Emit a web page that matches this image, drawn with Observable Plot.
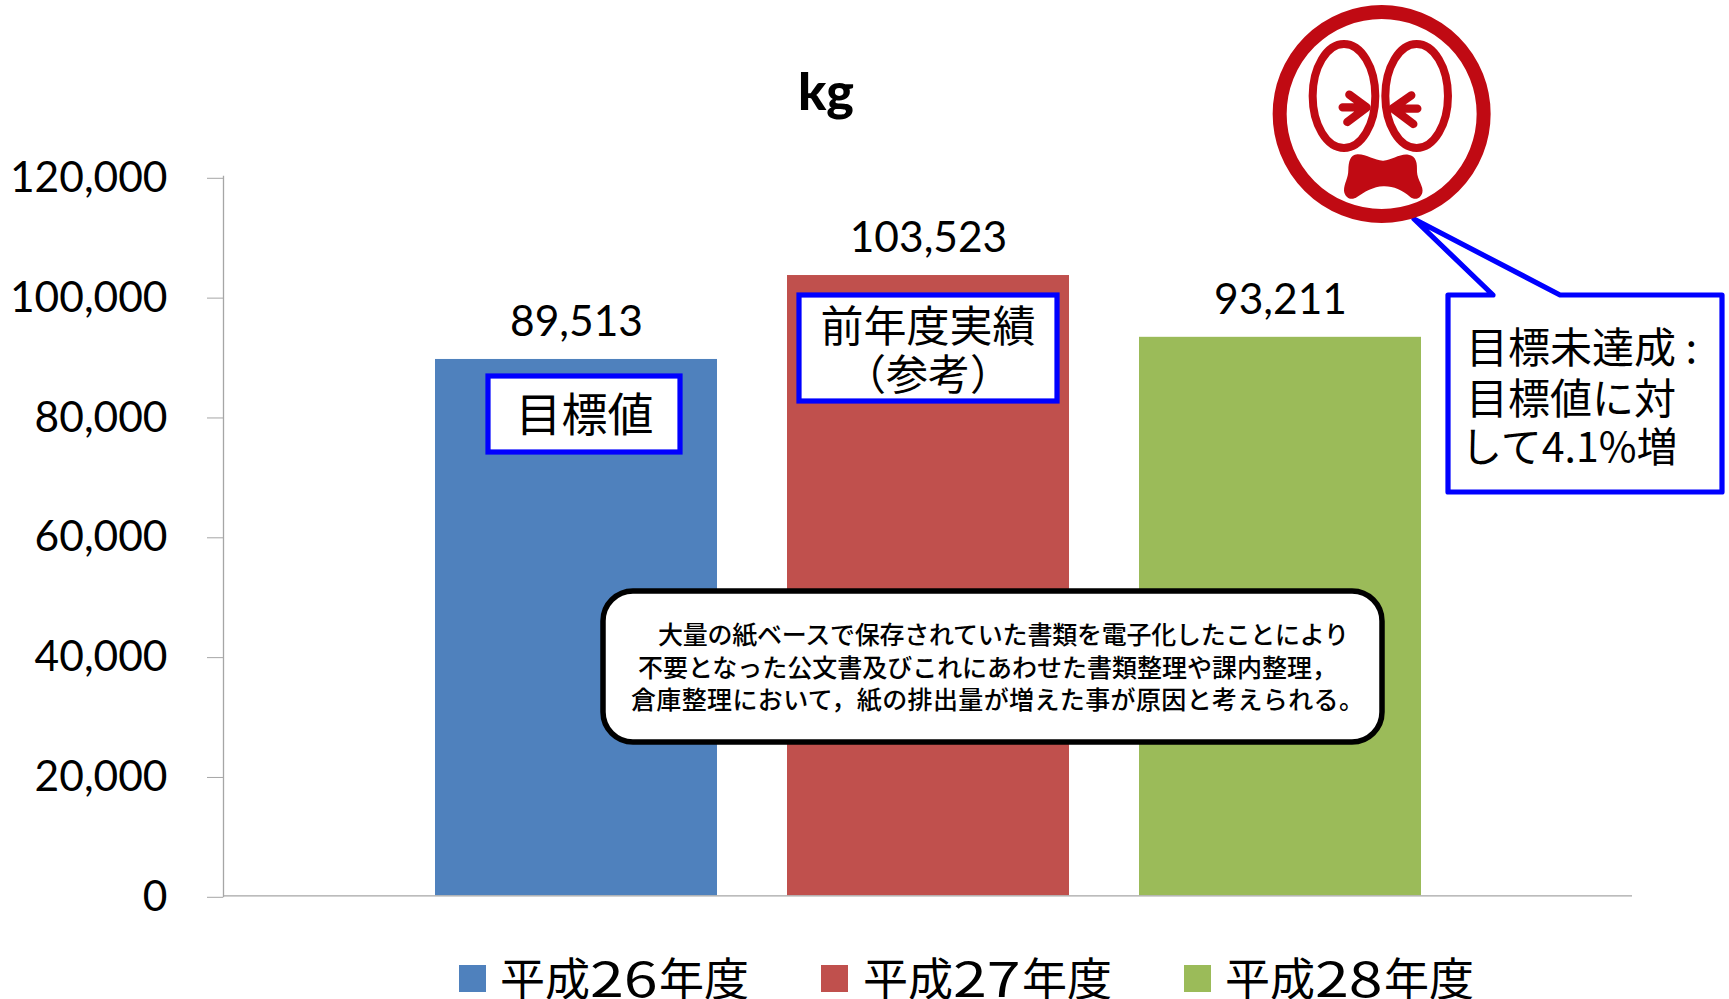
<!DOCTYPE html>
<html lang="ja">
<head>
<meta charset="utf-8">
<script src="https://cdn.jsdelivr.net/npm/d3@7"></script>
<script src="https://cdn.jsdelivr.net/npm/@observablehq/plot@0.6"></script>
<style>
html,body{margin:0;padding:0;background:#fff;overflow:hidden}
#chart{position:relative;width:1729px;height:999px;overflow:hidden}
#chart svg{display:block}
.lg{position:absolute;top:945px;left:0;width:1729px;height:54px;font-family:"Noto Sans CJK JP";font-size:45px;color:#000}
.lg i{position:absolute;top:20px;width:27px;height:27px}
.lg div{position:absolute;top:9px;height:45px;line-height:45px;white-space:nowrap}
.lg b{display:inline-block;width:69px;font-weight:400;font-size:48px;transform:scaleX(1.27);transform-origin:0 50%;line-height:45px;vertical-align:top}
</style>
</head>
<body>
<div id="chart"></div>
<script>
const years = ["平成26年度", "平成27年度", "平成28年度"];
const yearDigits = ["26", "27", "28"];
const values = [89513, 103523, 93211];
const colors = ["#4F81BD", "#C0504D", "#9BBB59"];
const yTicks = [0, 20000, 40000, 60000, 80000, 100000, 120000];
const unitTitle = "kg";
const targetLabel = "目標値";
const prevLabel = ["前年度実績", "（参考）"];
const calloutLines = ["目標未達成 :", "目標値に対", "して4.1%増"];
const noteLines = [
  "大量の紙ベースで保存されていた書類を電子化したことにより",
  "不要となった公文書及びこれにあわせた書類整理や課内整理，",
  "倉庫整理において，紙の排出量が増えた事が原因と考えられる。"
];
const rows = years.map((year, i) => ({year, value: values[i]}));
const CJK = '"Noto Sans CJK JP"';
const NS = "http://www.w3.org/2000/svg";

function annotations() {
  const g = d3.select(document.createElementNS(NS, "g"));
  const label = (parent, str, x, y, size, anchor, family, len) => {
    const t = parent.append("text").text(str)
      .attr("x", x).attr("y", y).attr("text-anchor", anchor)
      .attr("dominant-baseline", "central")
      .attr("font-family", family || CJK).attr("font-size", size).attr("fill", "#000");
    if (len) t.attr("textLength", len).attr("lengthAdjust", "spacing");
    return t;
  };
  const box = (x, y, w, h) => g.append("rect").attr("x", x).attr("y", y).attr("width", w).attr("height", h)
    .attr("fill", "#fff").attr("stroke", "#0000ff").attr("stroke-width", 5.2);

  label(g, unitTitle, 826, 90, 52, "middle", "Lato").attr("font-weight", 900);

  // target and previous-year tags
  box(488, 376, 192, 76);
  label(g, targetLabel, 584.5, 411, 46, "middle");
  box(799, 295, 258, 106);
  label(g, prevLabel[0], 928, 323, 43, "middle");
  label(g, prevLabel[1], 928, 371, 42, "middle");

  // explanatory note
  g.append("rect").attr("x", 603).attr("y", 591).attr("width", 779).attr("height", 151).attr("rx", 30)
    .attr("fill", "#fff").attr("stroke", "#000").attr("stroke-width", 5.5);
  label(g, noteLines[0], 658, 632.5, 25, "start", null, 691).attr("font-weight", 500);
  label(g, noteLines[1], 638, 666, 25, "start", null, 699).attr("font-weight", 500);
  label(g, noteLines[2], 631, 698, 25, "start", null, 733).attr("font-weight", 500);

  // callout with pointer
  g.append("path").attr("d", "M1448,295 H1493 L1414,219 L1560,295 H1722 V492 H1448 Z")
    .attr("fill", "#fff").attr("stroke", "#0000ff").attr("stroke-width", 5.2).attr("stroke-linejoin", "round");
  label(g, calloutLines[0], 1466, 344, 42, "start");
  label(g, calloutLines[1], 1466, 395, 42, "start");
  label(g, calloutLines[2], 1461, 444, 41, "start");

  // worried face
  const red = "#C00A13";
  const face = g.append("g").attr("transform", "translate(1240,0) scale(0.3333)");
  face.append("circle").attr("cx", 425).attr("cy", 342).attr("r", 306)
    .attr("fill", "#fff").attr("stroke", red).attr("stroke-width", 42);
  for (const cx of [312, 530]) {
    face.append("ellipse").attr("cx", cx).attr("cy", 288).attr("rx", 94).attr("ry", 156)
      .attr("fill", "none").attr("stroke", red).attr("stroke-width", 24);
  }
  face.append("path")
    .attr("d", "M308,322 H378 M328,284 L380,322 L322,366 M532,326 H462 M514,286 L458,325 L520,372")
    .attr("fill", "none").attr("stroke", red).attr("stroke-width", 25)
    .attr("stroke-linecap", "round").attr("stroke-linejoin", "round");
  face.append("path")
    .attr("d", "M352,463 C380,462 405,483 430,482 C455,481 480,460 505,464 C530,468 532,490 531,515 C532,540 552,560 547,578 C540,600 522,600 510,590 C485,570 460,558 430,559 C400,560 375,575 350,592 C335,602 315,595 312,572 C312,550 325,535 325,510 C326,485 330,465 352,463 Z")
    .attr("fill", red);
  return g.node();
}

const plot = Plot.plot({
  width: 1729,
  height: 945,
  marginLeft: 223,
  marginRight: 97,
  marginTop: 176,
  marginBottom: 49,
  style: {fontFamily: "Lato", background: "#fff", color: "#000"},
  x: {domain: years, range: [435, 1421], paddingInner: 0.2, paddingOuter: 0, axis: null},
  y: {domain: [0, 120000], range: [895.3, 176.3]},
  marks: [
    Plot.barY(rows, {x: "year", y: "value", fill: (d, i) => colors[i]}),
    Plot.text(rows, {x: "year", y: "value", text: d => d3.format(",")(d.value), dy: -37, fontSize: 42.5, fill: "#000"}),
    Plot.ruleY([0], {stroke: "#a6a6a6", strokeWidth: 1.3}),
    Plot.frame({anchor: "left", stroke: "#a6a6a6", strokeWidth: 1.3}),
    Plot.axisY({ticks: yTicks, tickFormat: d3.format(","), tickSize: 16, tickPadding: 40, stroke: "#a6a6a6", fill: "#000", fontSize: 42.5, dy: 1.5, label: null}),
    annotations
  ]
});
const chart = document.getElementById("chart");
chart.appendChild(plot);

const lg = d3.select(chart).append("div").attr("class", "lg");
const swatchLeft = [459, 821, 1184];
const textLeft = [500, 863, 1225];
years.forEach((y, i) => {
  lg.append("i").style("left", swatchLeft[i] + "px").style("background", colors[i]);
  const [a, b] = y.split(yearDigits[i]);
  const s = lg.append("div").style("left", textLeft[i] + "px");
  s.append("span").text(a);
  s.append("b").text(yearDigits[i]);
  s.append("span").text(b);
});
</script>
</body>
</html>
